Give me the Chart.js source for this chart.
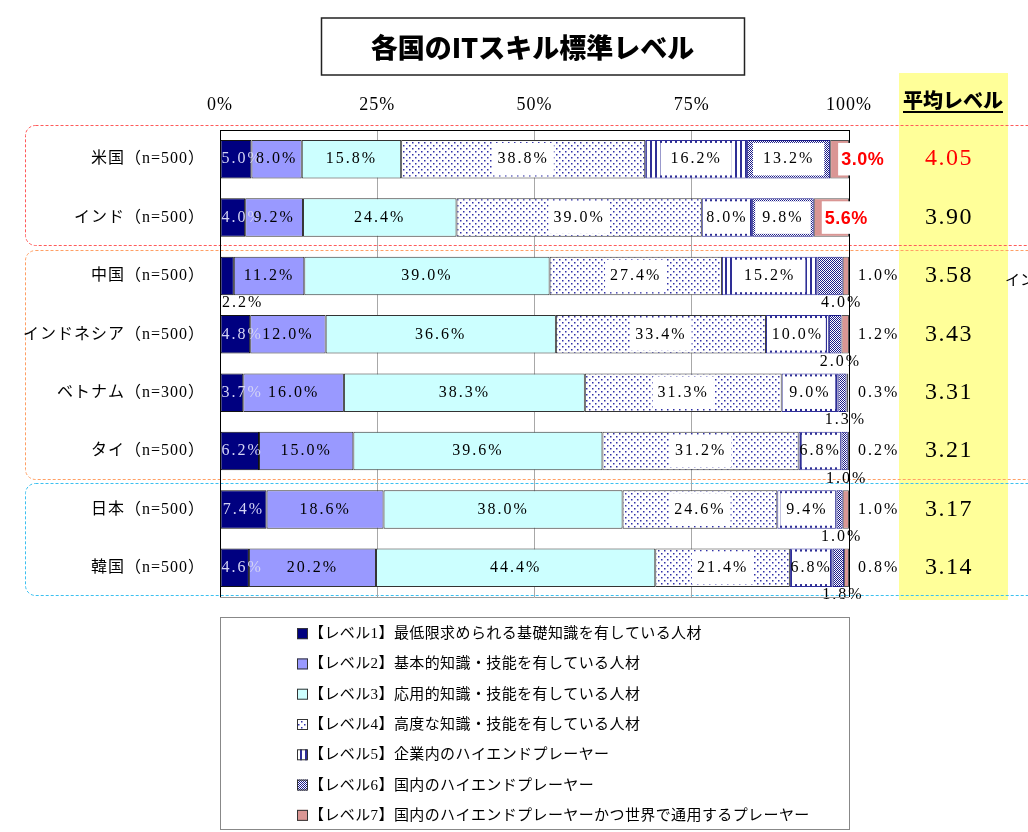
<!DOCTYPE html>
<html lang="ja">
<head>
<meta charset="utf-8">
<title>各国のITスキル標準レベル</title>
<script src="https://cdn.jsdelivr.net/npm/chart.js@4.4.1/dist/chart.umd.min.js"></script>
<style>
html, body { margin: 0; padding: 0; background: #fff; }
canvas { display: block; }
</style>
</head>
<body>
<canvas id="skill_chart" width="1028" height="832"></canvas>
<script>

// ---- data ----
const chart_title = '各国のITスキル標準レベル';
const avg_header = '平均レベル';

const countries = [
	'米国（n=500）',
	'インド（n=500）',
	'中国（n=500）',
	'インドネシア（n=500）',
	'ベトナム（n=300）',
	'タイ（n=500）',
	'日本（n=500）',
	'韓国（n=500）'
];

const level1 = [5.0, 4.0, 2.2, 4.8, 3.7, 6.2, 7.4, 4.6];
const level2 = [8.0, 9.2, 11.2, 12.0, 16.0, 15.0, 18.6, 20.2];
const level3 = [15.8, 24.4, 39.0, 36.6, 38.3, 39.6, 38.0, 44.4];
const level4 = [38.8, 39.0, 27.4, 33.4, 31.3, 31.2, 24.6, 21.4];
const level5 = [16.2, 8.0, 15.2, 10.0, 9.0, 6.8, 9.4, 6.8];
const level6 = [13.2, 9.8, 4.0, 2.0, 1.3, 1.0, 1.0, 1.8];
const level7 = [3.0, 5.6, 1.0, 1.2, 0.3, 0.2, 1.0, 0.8];

const avg_levels = ['4.05', '3.90', '3.58', '3.43', '3.31', '3.21', '3.17', '3.14'];

const x_ticks = [0, 25, 50, 75, 100];

const level_names = [
	'【レベル1】最低限求められる基礎知識を有している人材',
	'【レベル2】基本的知識・技能を有している人材',
	'【レベル3】応用的知識・技能を有している人材',
	'【レベル4】高度な知識・技能を有している人材',
	'【レベル5】企業内のハイエンドプレーヤー',
	'【レベル6】国内のハイエンドプレーヤー',
	'【レベル7】国内のハイエンドプレーヤーかつ世界で通用するプレーヤー'
];

// country groups (index ranges) for the dashed frames
const groups = [[0, 1], [2, 5], [6, 7]];

// ---- styles ----
const SERIF = "'Liberation Serif', 'Noto Sans CJK JP', serif";
const GOTHIC = "'Noto Sans CJK JP', sans-serif";
const group_colors = ['#ff5a5a', '#ffa066', '#3cc0f0'];

const canvas = document.getElementById('skill_chart');
const main_ctx = canvas.getContext('2d');

function Make_Pattern(size, draw) {
	const c = document.createElement('canvas');
	c.width = size;
	c.height = size;
	const g = c.getContext('2d');
	g.fillStyle = '#ffffff';
	g.fillRect(0, 0, size, size);
	draw(g);
	return main_ctx.createPattern(c, 'repeat');
}

const dots_pattern = Make_Pattern(6, g => {
	g.fillStyle = '#3030a8';
	g.fillRect(1, 1, 1.5, 1.5);
	g.fillRect(4, 4, 1.5, 1.5);
});
const stripe_pattern = Make_Pattern(5, g => {
	g.fillStyle = '#2e2e96';
	g.fillRect(0, 0, 2, 5);
});
const checker_pattern = Make_Pattern(2, g => {
	g.fillStyle = '#1a1a88';
	g.fillRect(0, 0, 1, 1);
	g.fillRect(1, 1, 1, 1);
});

const level_fills = ['#000080', '#9999ff', '#ccffff', dots_pattern, stripe_pattern, checker_pattern, '#da9694'];
const level_borders = ['#111', '#333', '#333', '#333', '#2e2e96', '#1a1a88', '#555'];
const level_data = [level1, level2, level3, level4, level5, level6, level7];

// ---- plugins ----
const backdrop_plugin = {
	id: 'backdrop',
	beforeDraw(chart) {
		const ctx = chart.ctx;
		const area = chart.chartArea;
		const y = chart.scales.y;
		const step = y.getPixelForValue(1) - y.getPixelForValue(0);
		ctx.save();
		// yellow column behind the averages
		ctx.fillStyle = '#ffff99';
		ctx.fillRect(area.right + 50, 73, 109, area.bottom + 3 - 73);
		// dashed group frames
		ctx.lineWidth = 1;
		ctx.setLineDash([3, 2]);
		groups.forEach((g, k) => {
			let top = y.getPixelForValue(g[0]) - step / 2 + 3;
			if (g[0] === 0) top -= 8;
			const bottom = y.getPixelForValue(g[1]) + step / 2 - 2;
			ctx.strokeStyle = group_colors[k];
			ctx.beginPath();
			ctx.roundRect(25.5, Math.round(top) + 0.5, 1040, Math.round(bottom - top), 10);
			ctx.stroke();
		});
		ctx.restore();
		chart.ctx.letterSpacing = '1px';
	},
	afterDraw(chart) {
		const ctx = chart.ctx;
		const area = chart.chartArea;
		const y = chart.scales.y;
		ctx.save();
		ctx.letterSpacing = '0px';

		// plot bottom line
		ctx.strokeStyle = '#999';
		ctx.lineWidth = 1;
		ctx.beginPath();
		ctx.moveTo(area.left, area.bottom + 0.5);
		ctx.lineTo(area.right, area.bottom + 0.5);
		ctx.stroke();

		// title box
		const cx = (area.left + area.right) / 2 - 2;
		ctx.fillStyle = '#fff';
		ctx.fillRect(cx - 211, 18, 423, 57);
		ctx.strokeStyle = '#222';
		ctx.lineWidth = 1.5;
		ctx.strokeRect(cx - 211, 18, 423, 57);
		ctx.fillStyle = '#000';
		ctx.font = '900 27px ' + GOTHIC;
		ctx.textAlign = 'center';
		ctx.textBaseline = 'middle';
		ctx.fillText(chart_title, cx, 48);

		// average header + values
		const ax = area.right + 104;
		ctx.font = '900 20px ' + GOTHIC;
		ctx.fillText(avg_header, ax, 100);
		const hw = ctx.measureText(avg_header).width;
		ctx.fillRect(ax - hw / 2, 111, hw, 2);
		ctx.font = '24px ' + SERIF;
		ctx.letterSpacing = '1.5px';
		avg_levels.forEach((v, i) => {
			ctx.fillStyle = i === 0 ? '#ff0000' : '#000';
			ctx.fillText(v, ax - 4, y.getPixelForValue(i));
		});

		// cut-off text at the right edge
		ctx.letterSpacing = '0px';
		ctx.fillStyle = '#000';
		ctx.font = '15px ' + GOTHIC;
		ctx.textAlign = 'left';
		ctx.fillText('インド', 1005, y.getPixelForValue(2) + 3);

		// legend box
		const lt = area.bottom + 20;
		const lb = chart.height - 3;
		ctx.strokeStyle = '#888';
		ctx.lineWidth = 1;
		ctx.strokeRect(area.left + 0.5, lt + 0.5, area.right - area.left, lb - lt);
		const rowH = (lb - lt) / level_names.length;
		ctx.font = '15px ' + SERIF;
		ctx.letterSpacing = '0.4px';
		level_names.forEach((name, i) => {
			const cy = lt + rowH * (i + 0.5) + 2;
			const sx = area.left + 77;
			ctx.fillStyle = level_fills[i];
			ctx.fillRect(sx, cy - 6, 11, 11);
			ctx.strokeStyle = '#333';
			ctx.strokeRect(sx + 0.5, cy - 5.5, 10, 10);
			ctx.fillStyle = '#000';
			ctx.fillText(name, sx + 12, cy);
		});
		ctx.restore();
	}
};

const label_plugin = {
	id: 'segLabels',
	afterDatasetsDraw(chart) {
		const ctx = chart.ctx;
		const area = chart.chartArea;
		ctx.save();
		ctx.textBaseline = 'middle';
		chart.data.datasets.forEach((ds, di) => {
			const meta = chart.getDatasetMeta(di);
			meta.data.forEach((bar, i) => {
				const v = ds.data[i];
				const txt = v.toFixed(1) + '%';
				const p = bar.getProps(['x', 'y', 'base', 'height'], true);
				const left = Math.min(p.x, p.base);
				const right = Math.max(p.x, p.base);
				const top = p.y - p.height / 2;
				const bottom = p.y + p.height / 2;
				const mid = (left + right) / 2;

				ctx.font = '16px ' + SERIF;
				ctx.letterSpacing = '2px';
				const w = ctx.measureText(txt).width;

				const bg = (x0, x1) => {
					ctx.fillStyle = '#fff';
					ctx.fillRect(x0, top + 3, x1 - x0, p.height - 6);
				};

				if (di === 0) {
					if (v < 3) {
						ctx.fillStyle = '#000';
						ctx.textAlign = 'left';
						ctx.fillText(txt, area.left + 2, bottom + 8);
					} else {
						ctx.fillStyle = '#d4d4f4';
						ctx.textAlign = 'center';
						ctx.fillText(txt, Math.max(mid, left + w / 2 + 1), p.y);
					}
				} else if (di === 1 || di === 2) {
					ctx.fillStyle = '#000';
					ctx.textAlign = 'center';
					ctx.fillText(txt, mid, p.y);
				} else if (di === 3 || di === 4 || (di === 5 && v >= 5)) {
					const pad = di === 3 ? 5 : 10;
					bg(Math.max(left + 3, mid - w / 2 - pad), Math.min(right - 3, mid + w / 2 + pad));
					ctx.fillStyle = '#000';
					ctx.textAlign = 'center';
					ctx.fillText(txt, mid, p.y);
				} else if (di === 5) {
					ctx.fillStyle = '#000';
					ctx.textAlign = 'center';
					ctx.fillText(txt, right - 1, bottom + 8);
				} else if (di === 6) {
					if (v >= 3) {
						ctx.font = 'bold 18px ' + "'Liberation Sans', Arial, sans-serif";
						ctx.letterSpacing = '0.5px';
						const rw = ctx.measureText(txt).width;
						bg(left + 8, left + 12 + rw);
						ctx.fillStyle = '#ff0000';
						ctx.textAlign = 'left';
						ctx.fillText(txt, left + 11, p.y + 1);
					} else {
						ctx.fillStyle = '#000';
						ctx.textAlign = 'left';
						ctx.fillText(txt, area.right + 9, p.y);
					}
				}
			});
		});
		ctx.restore();
	}
};

// ---- chart ----
const datasets = level_data.map((vals, k) => ({
	label: level_names[k],
	data: vals,
	backgroundColor: level_fills[k],
	borderColor: level_borders[k],
	borderWidth: 1,
	borderSkipped: false,
	barPercentage: 0.66,
	categoryPercentage: 1.0
}));

var Skill_Chart_Obj = new Chart(main_ctx, {
	type: 'bar',
	data: {
		labels: countries,
		datasets: datasets
	},
	options: {
		indexAxis: 'y',
		responsive: false,
		animation: false,
		events: [], // no hover
		layout: {
			padding: { left: 0, top: 0, right: 179, bottom: 235 }
		},
		plugins: {
			legend: { display: false },
			tooltip: { enabled: false },
			title: { display: false }
		},
		scales: {
			x: {
				position: 'top',
				stacked: true,
				min: x_ticks[0],
				max: x_ticks[x_ticks.length - 1],
				afterBuildTicks(scale) {
					scale.ticks = x_ticks.map(v => ({ value: v }));
				},
				afterFit(scale) {
					scale.height = 130;
				},
				ticks: {
					padding: 14,
					color: '#000',
					font: { family: SERIF, size: 18 },
					callback: v => v + '%'
				},
				grid: {
					drawTicks: false,
					color: c => (c.tick && (c.tick.value === 100 || c.tick.value === 0)) ? '#000' : '#a8a8a8'
				},
				border: { color: '#000' }
			},
			y: {
				stacked: true,
				afterFit(scale) {
					scale.width = 220;
				},
				ticks: {
					padding: 7,
					color: '#000',
					font: { family: SERIF, size: 16 }
				},
				grid: { display: false },
				border: { color: '#000' }
			}
		}
	},
	plugins: [backdrop_plugin, label_plugin]
});

</script>
</body>
</html>
